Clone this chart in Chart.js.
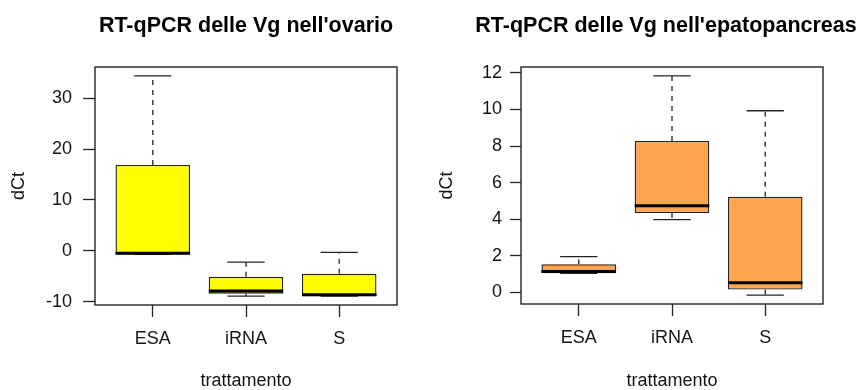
<!DOCTYPE html>
<html>
<head>
<meta charset="utf-8">
<script src="https://cdn.jsdelivr.net/npm/chart.js@4.4.1/dist/chart.umd.min.js"></script>
<style>
  html, body { margin: 0; padding: 0; background: #ffffff; }
  body { width: 867px; height: 390px; position: relative; overflow: hidden; }
  canvas { position: absolute; top: 0; }
  #ovario { left: 0; }
  #epato { left: 433px; }
</style>
</head>
<body>
<canvas id="ovario" width="433" height="390"></canvas>
<canvas id="epato" width="434" height="390"></canvas>
<script>
// Treatment groups (x axis)
const categories = ['ESA', 'iRNA', 'S'];

// Ovary: five-number summaries of dCt per treatment
const ovarioMin    = [-0.7, -8.9, -8.9];
const ovarioQ1     = [-0.7, -8.4, -8.9];
const ovarioMedian = [-0.45, -7.9, -8.6];
const ovarioQ3     = [16.9, -5.1, -4.5];
const ovarioMax    = [34.4, -2.2, -0.3];
const ovarioTicks  = [-10, 0, 10, 20, 30];

// Hepatopancreas: five-number summaries of dCt per treatment
const epatoMin    = [1.05, 3.98, -0.15];
const epatoQ1     = [1.05, 4.34, 0.16];
const epatoMedian = [1.14, 4.74, 0.53];
const epatoQ3     = [1.54, 8.28, 5.23];
const epatoMax    = [1.96, 11.84, 9.93];
const epatoTicks  = [0, 2, 4, 6, 8, 10, 12];

const FONT = '"Liberation Sans", Arial, Helvetica, sans-serif';
const INK = '#141414';
const LINE = '#242424';

// Whiskers, staples, medians and the frame around the plotting region
const boxplotExtras = {
  id: 'boxplotExtras',
  afterDatasetsDraw(chart, args, opts) {
    const { ctx, chartArea: a, scales: { x, y } } = chart;
    const unit = Math.abs(x.getPixelForValue(2) - x.getPixelForValue(1));
    const halfBox = unit * 0.4;
    const halfCap = unit * 0.2;
    ctx.save();
    opts.min.forEach((mn, i) => {
      const cx = x.getPixelForValue(i + 1);
      const yMin = y.getPixelForValue(mn);
      const yQ1 = y.getPixelForValue(opts.q1[i]);
      const yQ3 = y.getPixelForValue(opts.q3[i]);
      const yMax = y.getPixelForValue(opts.max[i]);
      const yMed = y.getPixelForValue(opts.median[i]);
      // dashed whiskers
      ctx.strokeStyle = LINE;
      ctx.lineWidth = 1.3;
      ctx.setLineDash([5, 5]);
      ctx.beginPath();
      ctx.moveTo(cx, yQ3); ctx.lineTo(cx, yMax);
      ctx.moveTo(cx, yQ1); ctx.lineTo(cx, yMin);
      ctx.stroke();
      // staples
      ctx.setLineDash([]);
      ctx.beginPath();
      ctx.moveTo(cx - halfCap, yMax); ctx.lineTo(cx + halfCap, yMax);
      ctx.moveTo(cx - halfCap, yMin); ctx.lineTo(cx + halfCap, yMin);
      ctx.stroke();
      // median
      ctx.strokeStyle = '#000000';
      ctx.lineWidth = 3;
      ctx.beginPath();
      ctx.moveTo(cx - halfBox, yMed); ctx.lineTo(cx + halfBox, yMed);
      ctx.stroke();
    });
    // frame
    ctx.strokeStyle = LINE;
    ctx.lineWidth = 1.4;
    ctx.strokeRect(a.left, a.top, a.right - a.left, a.bottom - a.top);
    ctx.restore();
  }
};

// Panel heading, centred over the plotting region
const panelTitle = {
  id: 'panelTitle',
  afterDraw(chart, args, opts) {
    const { ctx, chartArea: a } = chart;
    ctx.save();
    ctx.fillStyle = '#000000';
    ctx.font = 'bold 21.5px ' + FONT;
    ctx.textAlign = 'center';
    ctx.textBaseline = 'alphabetic';
    ctx.fillText(opts.text, (a.left + a.right) / 2 + opts.shift, opts.baseline);
    ctx.restore();
  }
};

function paddedRange(lo, hi) {
  const mn = Math.min(...lo), mx = Math.max(...hi);
  const pad = (mx - mn) * 0.04;
  return [mn - pad, mx + pad];
}

function makePanel(id, cfg) {
  const [yMin, yMax] = paddedRange(cfg.min, cfg.max);
  return new Chart(document.getElementById(id), {
    type: 'bar',
    data: {
      datasets: [{
        data: categories.map((c, i) => ({ x: i + 1, y: [cfg.q1[i], cfg.q3[i]] })),
        backgroundColor: cfg.fill,
        borderColor: LINE,
        borderWidth: 1.4,
        borderSkipped: false,
        categoryPercentage: 1,
        barPercentage: 0.8
      }]
    },
    options: {
      responsive: false,
      animation: false,
      layout: { padding: { top: 67, right: cfg.padRight, bottom: 0, left: 0 } },
      plugins: {
        legend: { display: false },
        tooltip: { enabled: false },
        title: { display: false },
        panelTitle: { text: cfg.title, baseline: 32, shift: cfg.titleShift },
        boxplotExtras: { min: cfg.min, q1: cfg.q1, median: cfg.median, q3: cfg.q3, max: cfg.max }
      },
      scales: {
        x: {
          type: 'linear',
          offset: false,
          min: 0.38,
          max: 3.62,
          afterBuildTicks: s => { s.ticks = categories.map((c, i) => ({ value: i + 1 })); },
          afterFit: s => { s.height = cfg.xHeight; },
          ticks: {
            callback: v => categories[v - 1],
            font: { family: FONT, size: 18 },
            color: INK,
            padding: 11,
            maxRotation: 0,
            autoSkip: false
          },
          grid: { offset: false, drawOnChartArea: false, tickLength: 12, tickColor: LINE, tickWidth: 1.3 },
          border: { display: false },
          title: {
            display: true,
            text: 'trattamento',
            font: { family: FONT, size: 18, lineHeight: 0.95 },
            color: INK,
            padding: { top: 0, bottom: 0 }
          }
        },
        y: {
          min: yMin,
          max: yMax,
          afterBuildTicks: s => { s.ticks = cfg.ticks.map(v => ({ value: v })); },
          afterFit: s => { s.width = cfg.yWidth; },
          ticks: {
            font: { family: FONT, size: 18 },
            color: INK,
            padding: cfg.tickPad
          },
          grid: { drawOnChartArea: false, tickLength: cfg.tickLen, tickColor: LINE, tickWidth: 1.3 },
          border: { display: false },
          title: {
            display: true,
            text: 'dCt',
            font: { family: FONT, size: 18, lineHeight: 1.2 },
            color: INK,
            padding: { top: cfg.yTitlePad, bottom: 0 }
          }
        }
      }
    },
    plugins: [boxplotExtras, panelTitle]
  });
}

makePanel('ovario', {
  title: "RT-qPCR delle Vg nell'ovario",
  min: ovarioMin, q1: ovarioQ1, median: ovarioMedian, q3: ovarioQ3, max: ovarioMax,
  ticks: ovarioTicks,
  fill: '#ffff00',
  padRight: 36, yWidth: 95, xHeight: 85,
  tickLen: 12, tickPad: 11, yTitlePad: 8, titleShift: 0
});

makePanel('epato', {
  title: "RT-qPCR delle Vg nell'epatopancreas",
  min: epatoMin, q1: epatoQ1, median: epatoMedian, q3: epatoQ3, max: epatoMax,
  ticks: epatoTicks,
  fill: '#ffa54f',
  padRight: 44, yWidth: 88, xHeight: 86,
  tickLen: 11, tickPad: 8, yTitlePad: 3, titleShift: -6
});
</script>
</body>
</html>
